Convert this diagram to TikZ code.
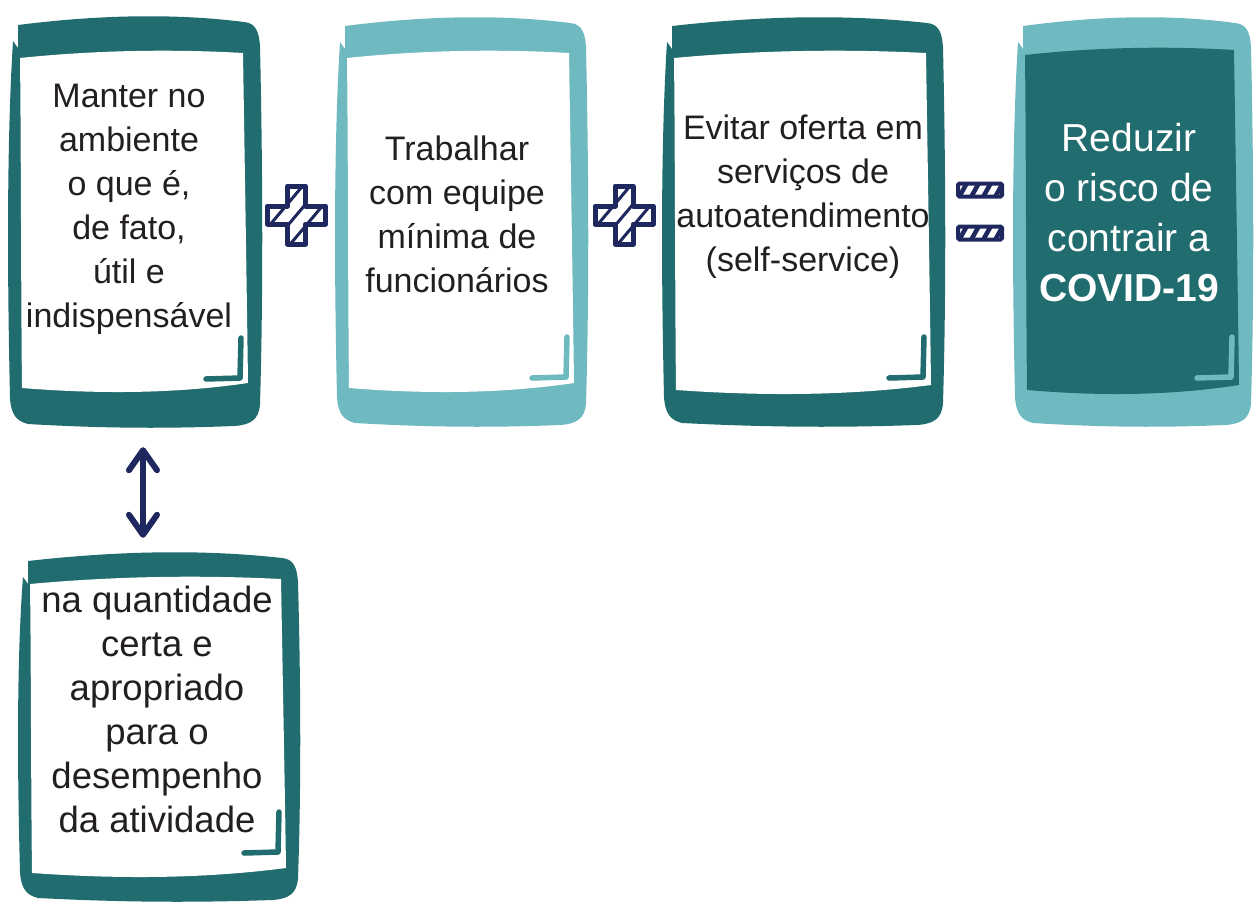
\documentclass[tikz,border=0pt]{standalone}
\usepackage{fontspec}
\setmainfont{Liberation Sans}
\usetikzlibrary{arrows.meta}
\definecolor{dteal}{HTML}{216C6E}
\definecolor{lteal}{HTML}{6FB9C1}
\definecolor{navy}{HTML}{1F285E}
\definecolor{ink}{HTML}{231F20}
% name, x1, y1, x2, y2, frame colour, inner colour, top thickness, bottom thickness
\newcommand{\frbox}[9]{%
  \fill[#6]
    ({#2+10},{#3+11})
    .. controls ({#2+0.35*(#4-#2)},{#3+1}) and ({#2+0.65*(#4-#2)},{#3-1}) .. ({#4-18},{#3+8})
    .. controls ({#4-6},{#3+9}) and ({#4-3},{#3+18}) .. ({#4-2},{#3+32})
    .. controls ({#4+1},{#3+0.4*(#5-#3)}) and ({#4+1},{#3+0.7*(#5-#3)}) .. ({#4-2},{#5-24})
    .. controls ({#4-3},{#5-8}) and ({#4-12},{#5-3}) .. ({#4-28},{#5-2})
    .. controls ({#2+0.6*(#4-#2)},{#5+1}) and ({#2+0.35*(#4-#2)},{#5}) .. ({#2+20},{#5-4})
    .. controls ({#2+8},{#5-7}) and ({#2+3},{#5-14}) .. ({#2+2},{#5-30})
    .. controls ({#2-1},{#3+0.6*(#5-#3)}) and ({#2-1},{#3+0.3*(#5-#3)}) .. ({#2+5},{#3+27})
    -- ({#2+10},{#3+34}) -- cycle;
  \fill[#7]
    ({#2+12},{#3+#8})
    .. controls ({#2+0.35*(#4-#2)},{#3+#8-8}) and ({#2+0.65*(#4-#2)},{#3+#8-9}) .. ({#4-19},{#3+#8-5})
    .. controls ({#4-17},{#3+0.4*(#5-#3)}) and ({#4-15},{#3+0.7*(#5-#3)}) .. ({#4-14},{#5-#9-5})
    .. controls ({#2+0.65*(#4-#2)},{#5-#9+6}) and ({#2+0.35*(#4-#2)},{#5-#9+6}) .. ({#2+14},{#5-#9})
    .. controls ({#2+13},{#3+0.7*(#5-#3)}) and ({#2+13},{#3+0.3*(#5-#3)}) .. ({#2+12},{#3+#8})
    -- cycle;
  \draw[#6, cornermark] ({#4-56},{#5-49}) -- ({#4-22},{#5-50}) -- ({#4-21},{#5-90});
  \node[inner sep=0pt, minimum width={(#4-#2)*1pt}, minimum height={(#5-#3)*1pt}]
    (#1) at ({(#2+#4)/2},{(#3+#5)/2}) {};
}
\tikzset{
  cornermark/.style={line width=5.5pt, line cap=round, line join=round},
  txt/.style={align=center, inner sep=0pt, text=ink, font=\fontsize{34}{44}\selectfont},
  dblarrow/.style={navy, line width=6pt, line cap=round,
    {Straight Barb[length=20pt, width=28pt, round]}-{Straight Barb[length=20pt, width=28pt, round]}},
  plusop/.pic={
    \def\crosspath{(-9,-29) -- (9,-29) -- (9,-9) -- (29,-9) -- (29,9) -- (9,9) -- (9,29) -- (-9,29) -- (-9,9) -- (-29,9) -- (-29,-9) -- (-9,-9) -- cycle}
    \fill[white] \crosspath;
    \begin{scope}
      \clip \crosspath;
      \draw[navy, line width=3pt] (-42.9,29.3) -- (21.5,-47.3);
      \draw[navy, line width=3pt] (-32.2,38.3) -- (32.2,-38.3);
      \draw[navy, line width=3pt] (-21.5,47.3) -- (42.9,-29.3);
    \end{scope}
    \draw[navy, line width=5pt, line join=round] \crosspath;
  },
  eqbar/.pic={
    \fill[white] (-22,-6.5) rectangle (22,6.5);
    \begin{scope}
      \clip (-22,-6.5) rectangle (22,6.5);
      \foreach \s in {-17,-5,7,19} \draw[navy, line width=4.5pt] ({\s-5},9) -- ({\s+5},-9);
    \end{scope}
    \draw[navy, line width=4pt, rounded corners=1.5pt] (-22,-6.5) rectangle (22,6.5);
  }
}
\begin{document}
\begin{tikzpicture}[x=1pt, y=-1pt]
\useasboundingbox (0,0) rectangle (1254,903);
\fill[white] (0,0) rectangle (1254,903);

\frbox{b1}{8}{14}{262}{428}{dteal}{white}{44}{40}
\frbox{b2}{335}{15}{588}{427}{lteal}{white}{43}{39}
\frbox{b3}{662}{15}{945}{427}{dteal}{white}{43}{37}
\frbox{b4}{1013}{15}{1253}{427}{lteal}{dteal}{40}{37}
\frbox{b5}{18}{550}{300}{902}{dteal}{white}{34}{29}

\node[txt] (t1) at (129,209) {Manter no\\ambiente\\o que é,\\de fato,\\útil e\\indispensável};
\node[txt] (t2) at (457,214) {Trabalhar\\com equipe\\mínima de\\funcionários};
\node[txt] (t3) at (803,197) {Evitar oferta em\\serviços de\\autoatendimento\\(self-service)};
\node[txt, text=white, font=\fontsize{39}{50}\selectfont] (t4) at (1129,213)
  {Reduzir\\o risco de\\contrair a\\\textbf{COVID-19}};
\node[txt, font=\fontsize{36.5}{44}\selectfont] (t5) at (157,709.5)
  {na quantidade\\certa e\\apropriado\\para o\\desempenho\\da atividade};

\pic at (296.5,215) {plusop};
\pic at (624,215) {plusop};
\pic at (980,190) {eqbar};
\pic at (980,233) {eqbar};

\coordinate (ax) at (143,490);
\draw[dblarrow, shorten <=19pt, shorten >=12pt] (b1.south -| ax) -- (b5.north -| ax);
\end{tikzpicture}
\end{document}
